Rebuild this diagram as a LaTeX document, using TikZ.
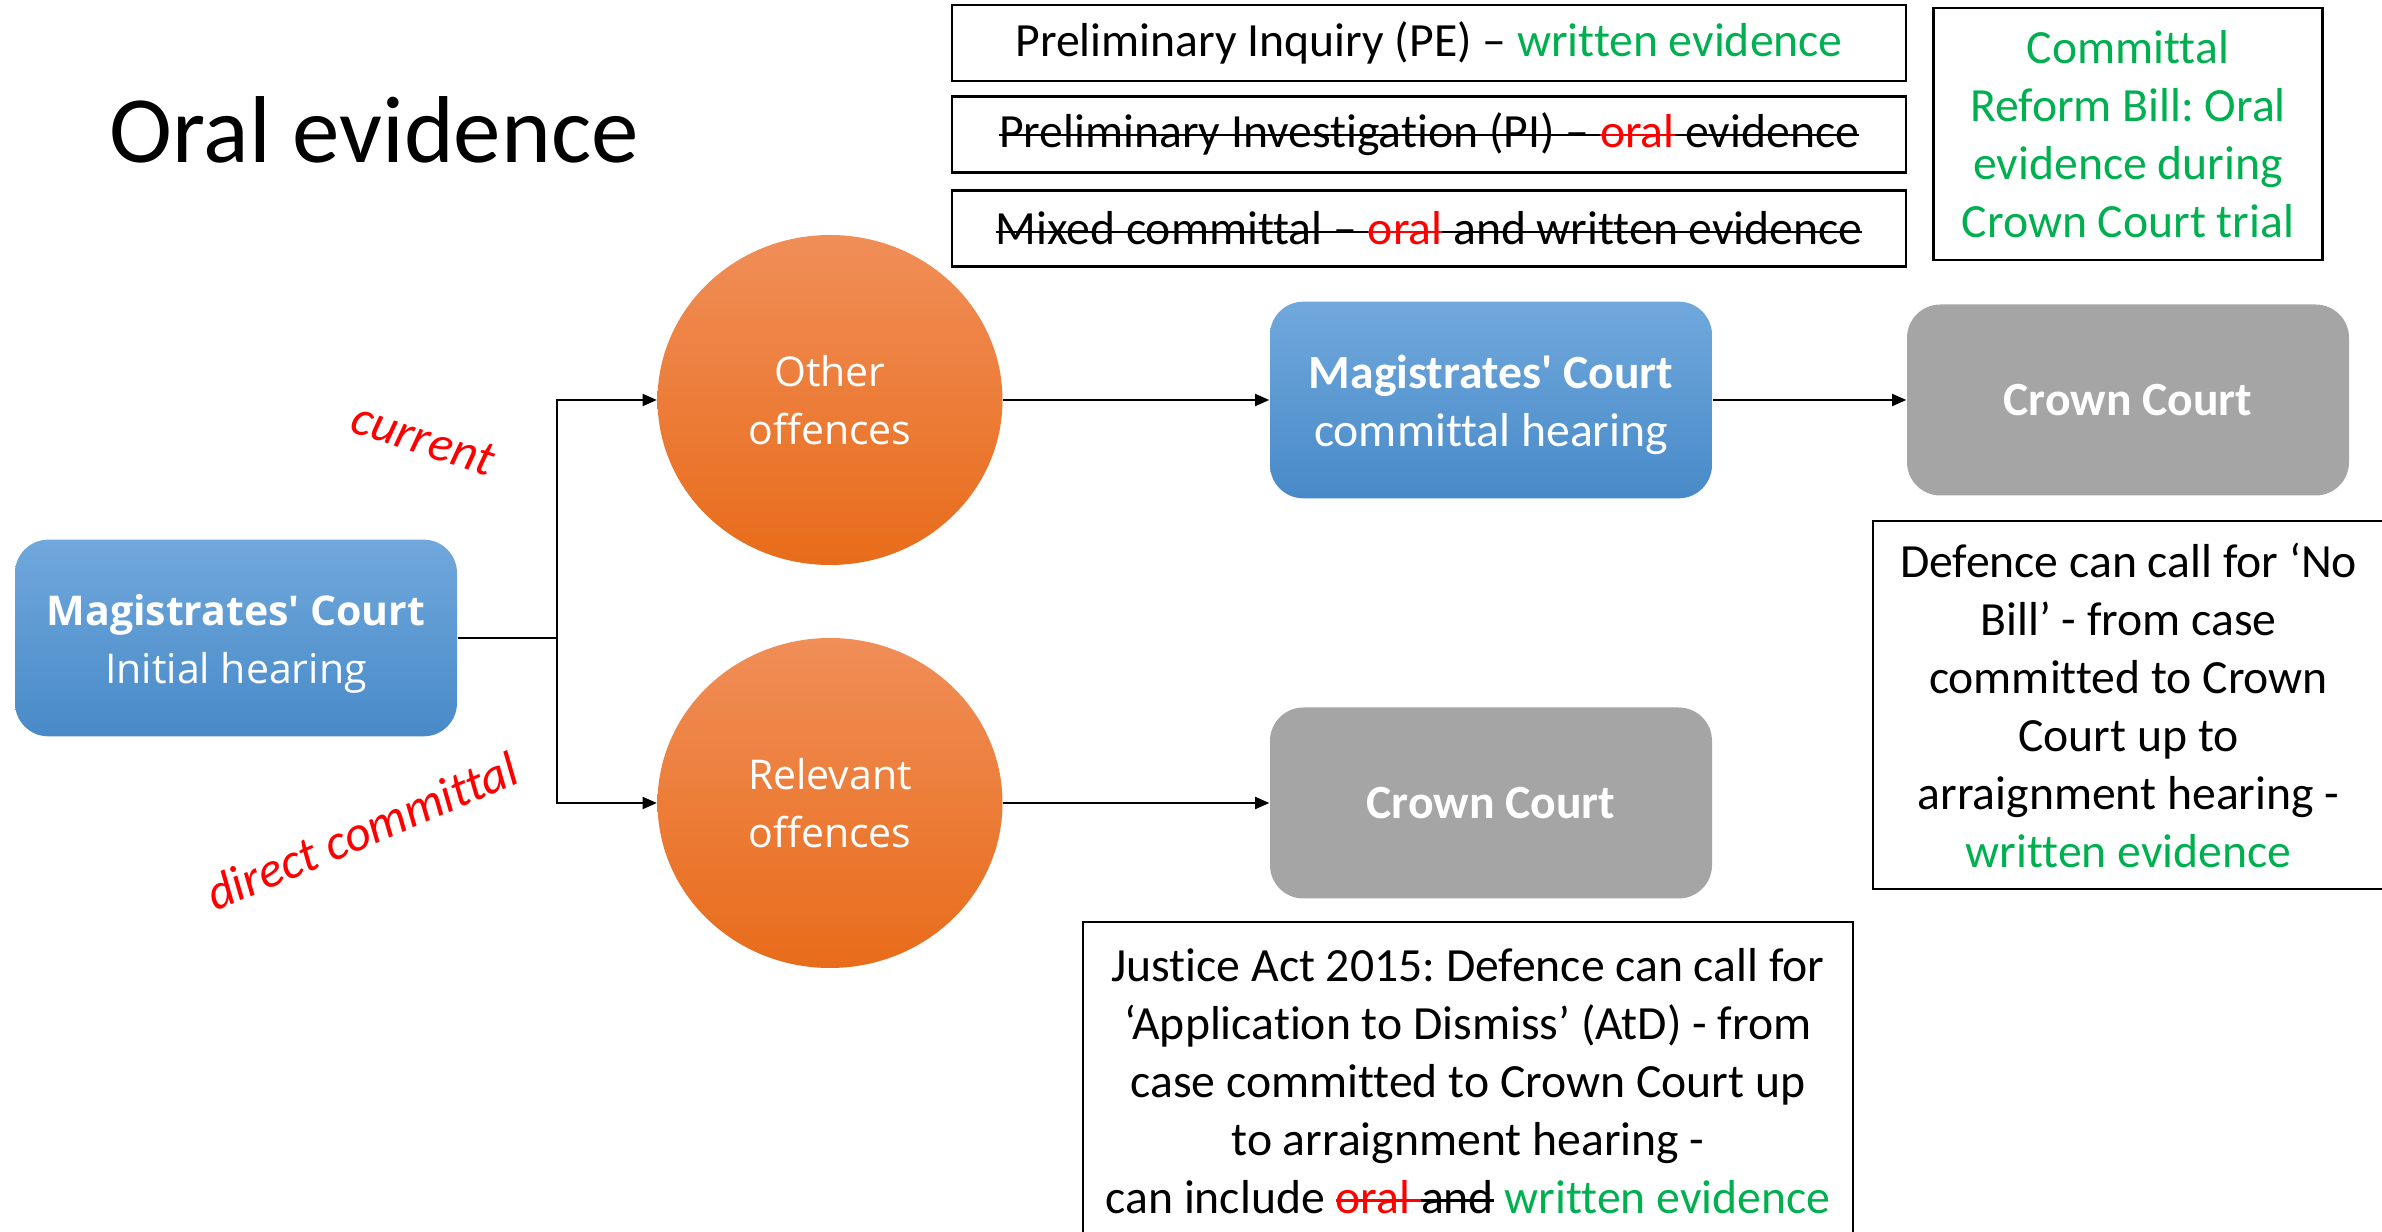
\documentclass[tikz,border=0pt]{standalone}
\usepackage{fontspec}
\setmainfont{Carlito}[Ligatures={TeX,NoCommon}]
\newfontfamily\wideface{Open Sans}[Ligatures={TeX,NoCommon}]
\usetikzlibrary{shapes.geometric,arrows.meta}

\definecolor{evgreen}{HTML}{00B050}
\definecolor{evred}{HTML}{FF0000}
\definecolor{mcbluetop}{HTML}{70A8DC}
\definecolor{mcbluebot}{HTML}{488AC8}
\definecolor{offtop}{HTML}{F08E58}
\definecolor{offbot}{HTML}{E86C1A}
\definecolor{crowngrey}{HTML}{A5A5A5}

\newsavebox\strikebox
\newcommand{\strikeout}[1]{\sbox\strikebox{#1}%
  \rlap{\rule[0.5ex]{\wd\strikebox}{0.8pt}}\usebox\strikebox}
\newcommand{\written}[1]{\textcolor{evgreen}{#1}}
\newcommand{\struck}[1]{\textcolor{evred}{\strikeout{#1}}}
\newcommand{\courtstrut}{\rule{0pt}{12.8pt}}
\frenchspacing

\begin{document}
\begin{tikzpicture}[x=0.3pt,y=-0.3pt]
\tikzstyle{every node}=[inner sep=0pt,font=\fontsize{14.3}{17.4}\selectfont]
\tikzstyle{court}=[rounded corners=10pt,text=white,align=center,
  minimum width=132.6pt,minimum height=59pt]
\tikzstyle{blue court}=[court,top color=mcbluetop,bottom color=mcbluebot]
\tikzstyle{crown}=[court,fill=crowngrey,minimum height=57.3pt,
  font=\fontsize{14.3}{17.4}\selectfont\bfseries]
\tikzstyle{offence}=[ellipse,minimum width=103.5pt,minimum height=99pt,
  top color=offtop,bottom color=offbot,text=white,align=center,
  font=\wideface\fontsize{12.3}{17.4}\selectfont]
\tikzstyle{notebox}=[draw,line width=0.75pt,align=center]
\tikzstyle{hand}=[text=evred,font=\fontsize{15}{18}\selectfont\itshape]
\tikzstyle{link}=[line width=0.7pt,-{Triangle[length=4.3pt,width=3.6pt]}]

\useasboundingbox (0,0) rectangle (2382,1232);

\node[anchor=base west,font=\fontsize{28.5}{34}\selectfont] (title) at (109,163) {Oral evidence};

% courts and offences
\node[blue court,font=\wideface\fontsize{12.3}{17.4}\selectfont] (initial) at (236,638)
  {\courtstrut\textbf{Magistrates\textquotesingle{} Court}\\Initial hearing};
\node[offence] (other) at (830,400) {Other\\offences};
\node[offence] (relevant) at (830,803) {Relevant\\offences};
\node[blue court] (committal) at (1491,400)
  {\courtstrut\textbf{Magistrates\textquotesingle{} Court}\\committal hearing};
\node[crown] (crowntop) at (2128,400) {Crown Court};
\node[crown] (crownlow) at (1491,803) {Crown Court};

% notes
\node[notebox,minimum width=286.2pt,minimum height=22.8pt] (pe) at (1429,43)
  {Preliminary Inquiry (PE) – \written{written evidence}};
\node[notebox,minimum width=286.2pt,minimum height=22.8pt] (pi) at (1429,134.5)
  {\strikeout{Preliminary Investigation (PI) – }\struck{oral}\strikeout{ evidence}};
\node[notebox,minimum width=286.2pt,minimum height=22.8pt] (mixed) at (1429,228.5)
  {\strikeout{Mixed committal – }\struck{oral}\strikeout{ and written evidence}};
\node[notebox,minimum width=116.7pt,minimum height=75.6pt,text=evgreen] (reform) at (2128,134)
  {Committal\\Reform Bill: Oral\\evidence during\\Crown Court trial};
\node[notebox,minimum width=153.3pt,minimum height=110.4pt] (nobill) at (2128.5,705)
  {Defence can call for ‘No\\Bill’ - from case\\committed to Crown\\Court up to\\arraignment hearing -\\\written{written evidence}};
\node[notebox,minimum width=231pt,minimum height=95.4pt] (atd) at (1468,1081)
  {Justice Act 2015: Defence can call for\\‘Application to Dismiss’ (AtD) - from\\case committed to Crown Court up\\to arraignment hearing -\\can include \struck{oral }\strikeout{and} \written{written evidence}};

% connectors
\coordinate (split) at (557,638);
\draw[line width=0.7pt] (initial.east) -- (split);
\draw[link] (split) |- (other);
\draw[link] (split) |- (relevant);
\draw[link] (other) -- (committal);
\draw[link] (committal) -- (crowntop);
\draw[link] (relevant) -- (crownlow);

\node[hand,rotate=-18] (current) at (423,439) {current};
\node[hand,rotate=23] (direct) at (362,831) {direct committal};
\end{tikzpicture}
\end{document}
